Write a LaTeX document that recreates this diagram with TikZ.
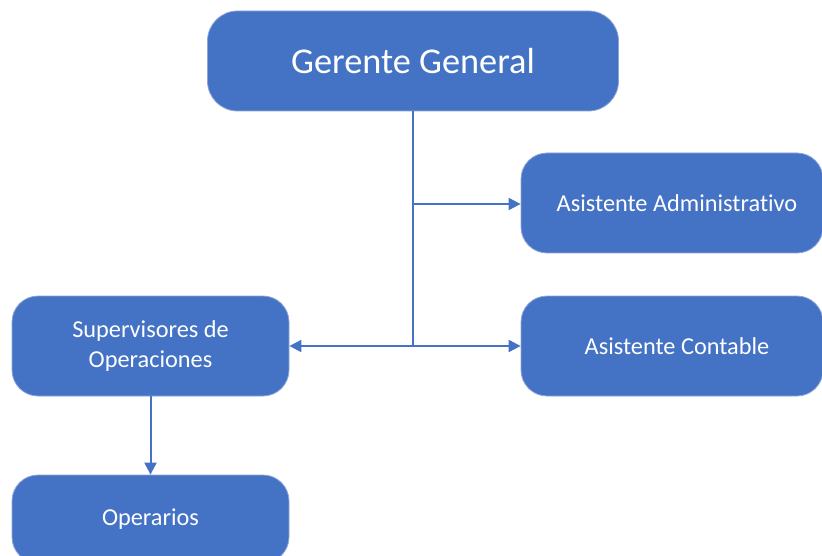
\documentclass[tikz,border=0pt]{standalone}
\usepackage{fontspec}
\setmainfont{Carlito}[Ligatures={NoCommon}]
\usetikzlibrary{arrows.meta}
\definecolor{boxblue}{HTML}{4472C4}
\definecolor{boxedge}{HTML}{8EA6D6}
\tikzset{
  orgbox/.style={draw=boxedge, line width=0.8pt, fill=boxblue, rounded corners=26pt, text=white, align=center, inner sep=0pt},
  conn/.style={draw=boxblue, line width=2pt},
  arr/.style={conn, -{Triangle[length=12pt,width=12pt]}}
}
\begin{document}
\begin{tikzpicture}[x=1pt,y=-1pt]
\useasboundingbox (0,0) rectangle (822,556);
\clip (0,0) rectangle (822,556);
\node[orgbox, rounded corners=30pt, minimum width=411pt, minimum height=100pt, font=\fontsize{36.3}{40}\selectfont] (gg) at (413,61) {Gerente General};
\node[orgbox, minimum width=302pt, minimum height=100pt, font=\fontsize{24.3}{28}\selectfont] (aa) at (672,203) {\hspace*{10pt}Asistente Administrativo};
\node[orgbox, minimum width=302pt, minimum height=100pt, font=\fontsize{24.3}{28}\selectfont] (ac) at (672,346) {\hspace*{10pt}Asistente Contable};
\node[orgbox, minimum width=277pt, minimum height=100pt, font=\fontsize{24.3}{30}\selectfont] (so) at (150.5,346) {Supervisores de\\Operaciones};
\node[orgbox, minimum width=277pt, minimum height=88pt, font=\fontsize{24.3}{28}\selectfont] (op) at (150.5,519) {Operarios};
\coordinate (j1) at (413,204);
\coordinate (j2) at (413,346);
\draw[conn] (gg.south) -- (j2);
\draw[arr] (j1) -- (aa.west |- j1);
\draw[arr] (j2) -- (ac.west);
\draw[arr] (j2) -- (so.east);
\draw[arr] (so.south) -- (op.north);
\end{tikzpicture}
\end{document}
